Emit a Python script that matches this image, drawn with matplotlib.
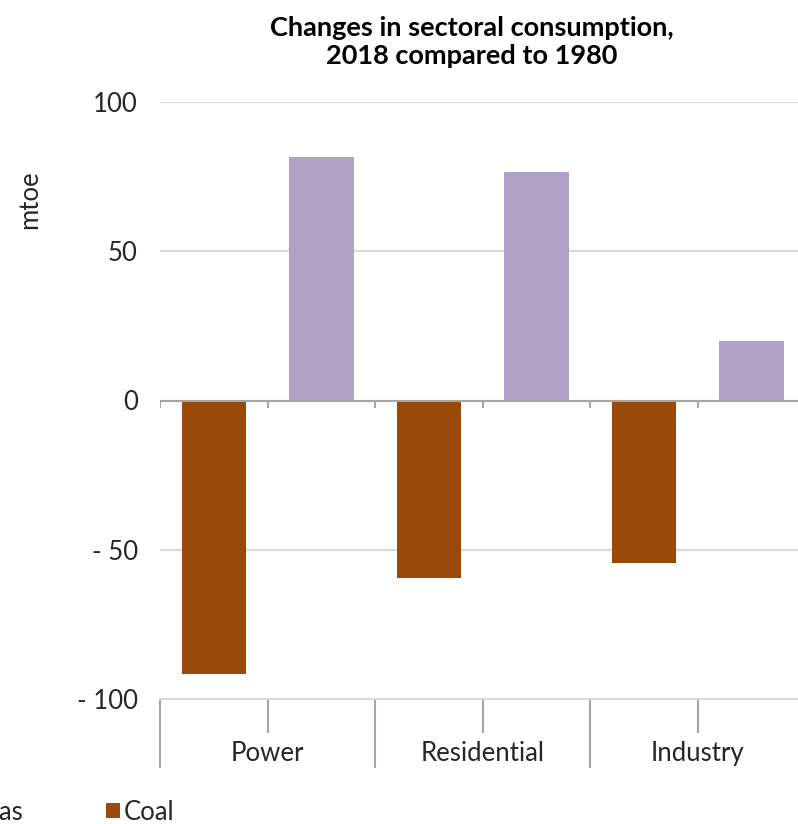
import matplotlib
matplotlib.use('Agg')
import matplotlib.pyplot as plt

plt.rcParams['font.family'] = ['Lato', 'DejaVu Sans']

sectors = ['Power', 'Residential', 'Industry']
coal = [-91.5, -59.3, -54.6]
gas = [81.7, 76.4, 20.1]
yticks = [-100, -50, 0, 50, 100]

coal_color = '#994A08'
gas_color = '#B2A1C7'
grid_gray = '#D9D9D9'
tick_gray = '#A6A6A6'
txt = '#262626'

fig = plt.figure(figsize=(7.98, 8.24), dpi=100)
ax = fig.add_axes([160 / 798, 1 - 699 / 824, 645 / 798, 597 / 824])

n = len(sectors)
coal_x = [2 * i for i in range(n)]
gas_x = [2 * i + 1 for i in range(n)]
b_gas = ax.bar(gas_x, gas, width=0.6, color=gas_color, zorder=3, label='Gas')
b_coal = ax.bar(coal_x, coal, width=0.6, color=coal_color, zorder=3, label='Coal')

ax.set_xlim(-0.5, 2 * n - 0.5)
ax.set_ylim(-100, 100)
ax.set_yticks(yticks)
ax.set_yticklabels([f'- {abs(v)}' if v < 0 else str(v) for v in yticks])
ax.yaxis.grid(True, color=grid_gray, lw=1.5, zorder=0)
ax.tick_params(axis='y', length=0, pad=16, labelsize=18.5, labelcolor=txt)
for s in ['left', 'right', 'top']:
    ax.spines[s].set_visible(False)
ax.spines['bottom'].set_color(grid_gray)
ax.spines['bottom'].set_linewidth(1.5)

# zero line with small slot ticks
ax.axhline(0, color=tick_gray, lw=1.5, zorder=4)
slot_edges = [i - 0.5 for i in range(2 * n + 1)]
ax.vlines(slot_edges, -2.4, 0, color=tick_gray, lw=1.5, zorder=4)

# two-level category axis at the bottom
group_edges = [2 * i - 0.5 for i in range(n + 1)]
mids = [2 * i + 0.5 for i in range(n)]
ax.set_xticks(group_edges)
ax.set_xticklabels([''] * len(group_edges))
ax.set_xticks(mids, minor=True)
ax.set_xticklabels(sectors, minor=True)
ax.tick_params(axis='x', which='major', length=50, width=1.5, color=tick_gray)
ax.tick_params(axis='x', which='minor', length=24.5, width=1.5, color=tick_gray,
               pad=6, labelsize=18.5, labelcolor=txt)

fig.text(30 / 798, 1 - 200 / 824, 'mtoe', rotation=90, ha='center', va='center',
         fontsize=18.5, color=txt)

fig.text(472 / 798, 1 - 42 / 824, 'Changes in sectoral consumption,\n2018 compared to 1980',
         ha='center', va='center', fontsize=19.5, fontweight='bold', linespacing=1.2, color='black')

fig.legend(handles=[b_gas, b_coal], loc='center left', bbox_to_anchor=(-37 / 798, 1 - 812 / 824),
           ncol=2, frameon=False, handlelength=0.55, handleheight=0.55,
           handletextpad=0.15, columnspacing=3.2, borderpad=0, borderaxespad=0,
           prop={'size': 18.5}, labelcolor=txt)

fig.savefig('out.png', dpi=100)
